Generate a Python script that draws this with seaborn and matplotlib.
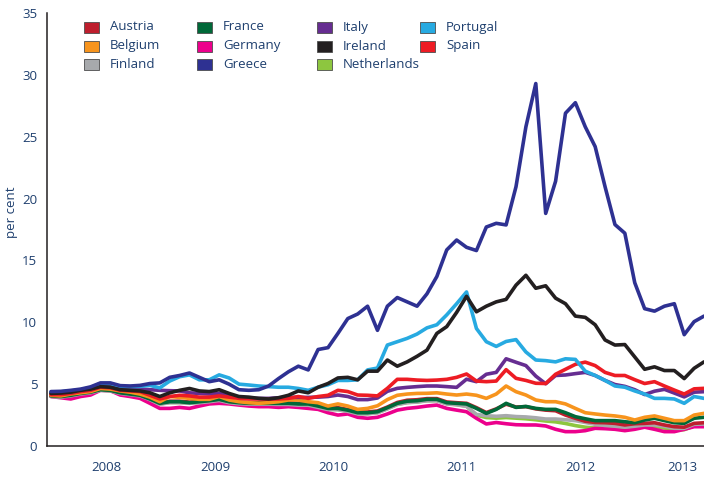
import numpy as np
import pandas as pd
import matplotlib
matplotlib.use("Agg")
import matplotlib.pyplot as plt
from matplotlib.patches import Rectangle
import seaborn as sns

# monthly observations, mid-2007 to mid-2013
months = np.arange(67)

austria = [4.1, 4.05, 4.15, 4.3, 4.4, 4.6, 4.55, 4.35, 4.25, 4.15, 3.85, 3.5, 3.62, 3.62, 3.55, 3.62, 3.7, 3.8,
           3.62, 3.55, 3.5, 3.5, 3.5, 3.5, 3.5, 3.45, 3.45, 3.28, 3.1, 3.1, 2.95, 2.75, 2.75, 2.83, 3.15, 3.52,
           3.7, 3.74, 3.83, 3.83, 3.56, 3.5, 3.45, 3.1, 2.7, 3.0, 3.38, 3.15, 3.18, 3.0, 2.9, 2.85, 2.5, 2.24,
           2.0, 1.9, 1.88, 1.83, 1.7, 1.8, 1.83, 1.88, 1.7, 1.56, 1.52, 1.83, 1.88]
belgium = [4.1, 4.05, 4.2, 4.3, 4.4, 4.65, 4.6, 4.45, 4.35, 4.2, 3.95, 3.58, 4.0, 3.93, 3.85, 3.77, 3.77, 4.0,
           3.72, 3.58, 3.5, 3.45, 3.5, 3.58, 3.72, 3.72, 3.58, 3.5, 3.23, 3.4, 3.23, 2.96, 3.04, 3.25, 3.75, 4.1,
           4.2, 4.25, 4.26, 4.3, 4.2, 4.12, 4.2, 4.1, 3.85, 4.2, 4.85, 4.39, 4.12, 3.72, 3.58, 3.58, 3.4, 3.04,
           2.69, 2.59, 2.5, 2.43, 2.32, 2.1, 2.32, 2.43, 2.24, 2.05, 2.05, 2.5, 2.64]
finland = [4.0, 3.95, 4.05, 4.2, 4.3, 4.5, 4.45, 4.25, 4.15, 4.05, 3.75, 3.38, 3.5, 3.5, 3.45, 3.5, 3.58, 3.68,
           3.5, 3.42, 3.38, 3.38, 3.38, 3.36, 3.36, 3.3, 3.3, 3.12, 2.95, 2.93, 2.8, 2.6, 2.6, 2.68, 3.0, 3.35,
           3.5, 3.55, 3.65, 3.66, 3.4, 3.33, 3.2, 2.55, 2.45, 2.4, 2.45, 2.38, 2.35, 2.28, 2.18, 2.18, 2.12, 2.05,
           1.9, 1.75, 1.66, 1.6, 1.52, 1.6, 1.7, 1.7, 1.6, 1.43, 1.43, 1.75, 1.78]
france = [4.05, 4.0, 4.1, 4.25, 4.35, 4.55, 4.5, 4.3, 4.2, 4.1, 3.8, 3.45, 3.58, 3.58, 3.5, 3.58, 3.66, 3.77,
          3.58, 3.5, 3.45, 3.45, 3.45, 3.45, 3.45, 3.4, 3.4, 3.23, 3.04, 3.04, 2.9, 2.69, 2.69, 2.77, 3.1, 3.45,
          3.62, 3.66, 3.77, 3.77, 3.5, 3.45, 3.4, 3.04, 2.64, 2.96, 3.45, 3.12, 3.2, 3.04, 2.96, 2.96, 2.69, 2.37,
          2.2, 2.05, 2.05, 2.05, 1.96, 1.88, 2.1, 2.24, 2.05, 1.88, 1.83, 2.24, 2.32]
germany = [4.0, 3.9, 3.8, 4.0, 4.12, 4.5, 4.47, 4.12, 4.0, 3.85, 3.45, 3.04, 3.04, 3.12, 3.04, 3.23, 3.4, 3.45,
           3.4, 3.31, 3.23, 3.18, 3.18, 3.12, 3.18, 3.12, 3.04, 2.96, 2.69, 2.5, 2.59, 2.32, 2.24, 2.32, 2.59, 2.9,
           3.04, 3.12, 3.23, 3.31, 3.04, 2.9, 2.77, 2.24, 1.78, 1.9, 1.8, 1.72, 1.7, 1.7, 1.62, 1.35, 1.16, 1.16,
           1.24, 1.43, 1.4, 1.35, 1.24, 1.35, 1.52, 1.35, 1.16, 1.16, 1.35, 1.56, 1.56]
greece = [4.4, 4.42, 4.5, 4.6, 4.78, 5.1, 5.1, 4.88, 4.85, 4.9, 5.05, 5.1, 5.55, 5.7, 5.9, 5.55, 5.2, 5.35,
          5.0, 4.55, 4.5, 4.55, 4.85, 5.45, 6.0, 6.45, 6.15, 7.8, 7.95, 9.1, 10.3, 10.67, 11.3, 9.35, 11.3, 12.0,
          11.65, 11.3, 12.3, 13.7, 15.85, 16.65, 16.06, 15.8, 17.7, 18.0, 17.87, 20.96, 25.8, 29.3, 18.8, 21.4,
          26.9, 27.75, 25.8, 24.2, 20.96, 17.9, 17.2, 13.2, 11.1, 10.9, 11.3, 11.5, 9.0, 10.05, 10.5]
italy = [4.3, 4.3, 4.35, 4.5, 4.6, 4.85, 4.85, 4.65, 4.6, 4.6, 4.55, 4.5, 4.47, 4.45, 4.3, 4.25, 4.2, 4.25,
         4.12, 3.95, 3.85, 3.85, 3.85, 3.9, 3.93, 3.93, 3.93, 3.95, 4.0, 4.12, 4.0, 3.75, 3.75, 3.88, 4.42, 4.66,
         4.74, 4.8, 4.85, 4.85, 4.8, 4.74, 5.4, 5.2, 5.8, 5.95, 7.05, 6.77, 6.5, 5.65, 5.03, 5.7, 5.74, 5.85,
         5.95, 5.7, 5.3, 4.97, 4.82, 4.55, 4.16, 4.43, 4.58, 4.28, 3.97, 4.35, 4.39]
ireland = [4.25, 4.28, 4.35, 4.5, 4.6, 4.8, 4.75, 4.55, 4.5, 4.45, 4.3, 4.0, 4.3, 4.5, 4.65, 4.45, 4.4, 4.55,
           4.25, 4.0, 3.95, 3.85, 3.8, 3.9, 4.1, 4.45, 4.3, 4.75, 5.05, 5.5, 5.55, 5.35, 6.05, 6.05, 6.95, 6.45,
           6.8, 7.25, 7.75, 9.1, 9.65, 10.8, 12.1, 10.85, 11.3, 11.65, 11.85, 13.0, 13.8, 12.75, 12.95, 11.95,
           11.5, 10.5, 10.4, 9.8, 8.57, 8.16, 8.2, 7.2, 6.2, 6.4, 6.1, 6.1, 5.45, 6.28, 6.8]
netherlands = [4.02, 3.97, 4.07, 4.22, 4.32, 4.52, 4.47, 4.27, 4.17, 4.07, 3.77, 3.4, 3.52, 3.52, 3.47, 3.52,
               3.6, 3.7, 3.52, 3.44, 3.4, 3.4, 3.4, 3.38, 3.38, 3.32, 3.32, 3.14, 2.97, 2.95, 2.82, 2.62, 2.62,
               2.7, 3.02, 3.37, 3.52, 3.57, 3.67, 3.68, 3.42, 3.35, 3.22, 2.5, 2.3, 2.25, 2.3, 2.25, 2.2, 2.12,
               2.02, 1.95, 1.82, 1.65, 1.52, 1.45, 1.5, 1.5, 1.45, 1.5, 1.58, 1.58, 1.45, 1.28, 1.32, 1.62, 1.72]
portugal = [4.35, 4.38, 4.45, 4.55, 4.72, 5.05, 5.05, 4.82, 4.8, 4.82, 4.9, 4.7, 5.25, 5.6, 5.75, 5.35, 5.35,
            5.75, 5.5, 5.0, 4.93, 4.85, 4.8, 4.75, 4.75, 4.65, 4.5, 4.75, 4.95, 5.3, 5.3, 5.35, 6.15, 6.3, 8.16,
            8.43, 8.7, 9.05, 9.55, 9.8, 10.6, 11.5, 12.45, 9.5, 8.43, 8.05, 8.45, 8.6, 7.6, 6.95, 6.9, 6.8, 7.05,
            7.0, 6.05, 5.7, 5.3, 4.85, 4.75, 4.45, 4.2, 3.85, 3.85, 3.8, 3.45, 4.0, 3.85]
spain = [4.15, 4.15, 4.25, 4.4, 4.5, 4.75, 4.7, 4.5, 4.45, 4.4, 4.1, 3.8, 4.0, 4.1, 4.05, 3.95, 3.95, 4.05,
         3.95, 3.85, 3.8, 3.8, 3.78, 3.8, 3.85, 4.0, 3.85, 4.0, 4.1, 4.5, 4.4, 4.12, 4.1, 4.05, 4.66, 5.39,
         5.39, 5.33, 5.3, 5.33, 5.39, 5.55, 5.82, 5.25, 5.2, 5.25, 6.17, 5.47, 5.3, 5.07, 5.05, 5.8, 6.2, 6.6,
         6.78, 6.5, 5.95, 5.7, 5.7, 5.36, 5.05, 5.2, 4.85, 4.52, 4.2, 4.62, 4.66]

countries = ["Austria", "Belgium", "Finland", "France", "Germany", "Greece",
             "Italy", "Ireland", "Netherlands", "Portugal", "Spain"]
series = [austria, belgium, finland, france, germany, greece,
          italy, ireland, netherlands, portugal, spain]
colors = ["#be1e2d", "#f7941d", "#a7a9ac", "#006838", "#ec008c", "#2e3192",
          "#662d91", "#231f20", "#8dc63f", "#27aae1", "#ed1c24"]
# drawing order (bottom to top), legend keeps the order above
draw_order = ["Netherlands", "Germany", "Finland", "Austria", "France", "Belgium",
              "Italy", "Spain", "Portugal", "Ireland", "Greece"]

year_ticks = [5.56, 16.67, 28.5, 41.5, 53.5, 63.8]
year_labels = ["2008", "2009", "2010", "2011", "2012", "2013"]

text_col = "#1e3f6e"

df = pd.DataFrame({c: s for c, s in zip(countries, series)}, index=months)
long_df = df.reset_index(names="month").melt(id_vars="month", var_name="country", value_name="rate")

sns.set_style("white")
plt.rcParams["font.family"] = ["Open Sans", "DejaVu Sans"]

W, H = 704, 478
fig = plt.figure(figsize=(W / 100, H / 100), dpi=100)
ax = fig.add_axes([47 / W, (H - 446) / H, (W - 47) / W, (446 - 13) / H])

sns.lineplot(data=long_df, x="month", y="rate", hue="country", hue_order=draw_order,
             palette=dict(zip(countries, colors)), linewidth=2.6, legend=False, ax=ax)

ax.set_xlim(-0.4, 66)
ax.set_ylim(0, 35)
ax.set_yticks(range(0, 36, 5))
ax.set_xticks(year_ticks)
ax.set_xticklabels(year_labels)
ax.xaxis.get_major_ticks()[-1].tick1line.set_visible(False)
ax.set_xlabel("")
ax.set_ylabel("")
ax.tick_params(direction="in", length=7.5, width=1.1, colors="#231f20",
               labelcolor=text_col, labelsize=9.5)
ax.tick_params(axis="y", pad=7)
ax.tick_params(axis="x", pad=11)
for side in ["top", "right"]:
    ax.spines[side].set_visible(False)
for side in ["left", "bottom"]:
    ax.spines[side].set_color("#231f20")
    ax.spines[side].set_linewidth(1.1)

fig.text(12 / W, 1 - 212 / H, "per cent", rotation=90, ha="center", va="center",
         color=text_col, fontsize=9.5)

# hand-placed legend: 4 columns, 3 rows
col_x = [84, 197, 317, 420]
row_y = [27, 46, 64]
for k, (name, col) in enumerate(zip(countries, colors)):
    cx, ry = col_x[k // 3], row_y[k % 3]
    fig.patches.append(Rectangle((cx / W, 1 - (ry + 5.5) / H), 15 / W, 11 / H,
                                 transform=fig.transFigure, facecolor=col,
                                 edgecolor="#4d4d4d", linewidth=0.6))
    fig.text((cx + 26) / W, 1 - ry / H, name, ha="left", va="center",
             color=text_col, fontsize=9.5)

fig.savefig("out.png", dpi=100)
